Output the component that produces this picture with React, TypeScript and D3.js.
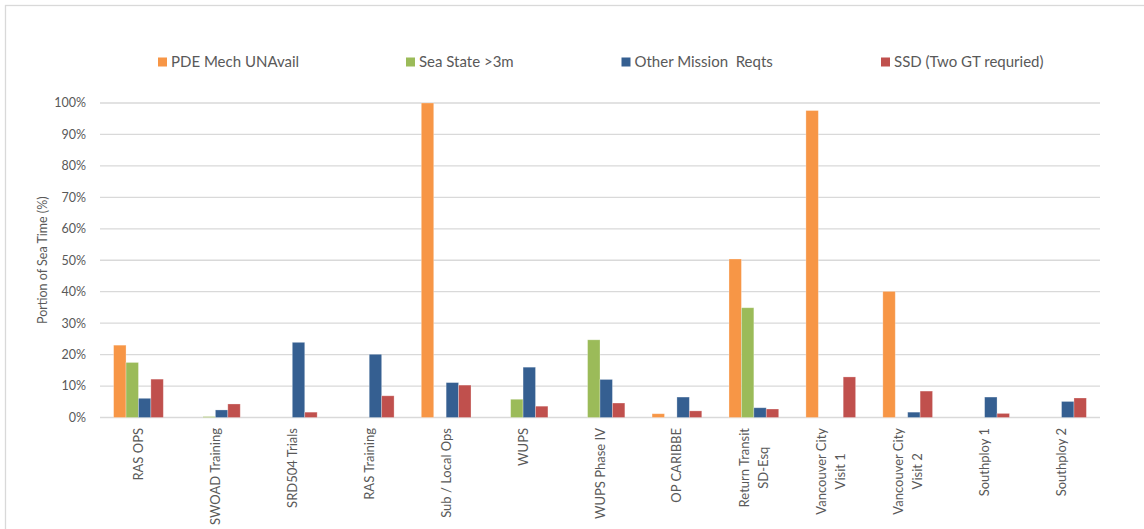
import React, { useEffect, useRef } from "react";
import * as d3 from "d3";

// Categories (a "\n" splits a label onto two lines)
const categories = [
  "RAS OPS",
  "SWOAD Training",
  "SRD504 Trials",
  "RAS Training",
  "Sub / Local Ops",
  "WUPS",
  "WUPS Phase IV",
  "OP CARIBBE",
  "Return Transit\nSD-Esq",
  "Vancouver City\nVisit 1",
  "Vancouver City\nVisit 2",
  "Southploy 1",
  "Southploy 2",
];

// Portion of sea time lost, in percent, per category
const pdeMechUnavail = [23, 0, 0, 0, 100, 0, 0, 1.2, 50.4, 97.6, 40.1, 0, 0];
const seaStateOver3m = [17.5, 0.3, 0, 0, 0, 5.8, 24.7, 0, 34.9, 0, 0, 0, 0];
const otherMissionReqts = [6.1, 2.4, 23.9, 20.1, 11.1, 16, 12.1, 6.5, 3.1, 0, 1.7, 6.5, 5.1];
const ssdTwoGt = [12.2, 4.3, 1.7, 6.9, 10.3, 3.6, 4.6, 2.1, 2.7, 12.9, 8.4, 1.3, 6.2];

const seriesNames = [
  "PDE Mech UNAvail",
  "Sea State >3m",
  "Other Mission  Reqts",
  "SSD (Two GT requried)",
];
const seriesValues = [pdeMechUnavail, seaStateOver3m, otherMissionReqts, ssdTwoGt];
const seriesColors = ["#F79646", "#9BBB59", "#355F91", "#C0504D"];

const yTicks = [0, 10, 20, 30, 40, 50, 60, 70, 80, 90, 100];

const W = 1144;
const H = 529;
const FONT = "Lato, 'Open Sans', sans-serif";
const TEXT = "#595959";
const GRID = "#D9D9D9";

export default function App() {
  const ref = useRef<SVGSVGElement | null>(null);

  useEffect(() => {
    const svg = d3.select(ref.current);
    svg.selectAll("*").remove();

    const plot = { left: 100, right: 1100, top: 103, bottom: 417.5 };

    const x = d3.scaleBand<string>().domain(categories).range([plot.left, plot.right]).padding(0);
    const x1 = d3
      .scaleBand<string>()
      .domain(seriesNames)
      .range([0, x.bandwidth()])
      .paddingInner(0)
      .paddingOuter(1.095);
    const y = d3.scaleLinear().domain([0, 100]).range([plot.bottom, plot.top]);

    // outer chart border
    svg
      .append("rect")
      .attr("x", 5.5)
      .attr("y", 5.5)
      .attr("width", W + 20)
      .attr("height", H + 20)
      .attr("fill", "#fff")
      .attr("stroke", GRID)
      .attr("stroke-width", 1.3);

    // gridlines
    svg
      .append("g")
      .selectAll("line")
      .data(yTicks)
      .join("line")
      .attr("x1", plot.left)
      .attr("x2", plot.right)
      .attr("y1", (d) => y(d))
      .attr("y2", (d) => y(d))
      .attr("stroke", GRID)
      .attr("stroke-width", 1.3);

    // y tick labels
    svg
      .append("g")
      .selectAll("text")
      .data(yTicks)
      .join("text")
      .attr("x", 86)
      .attr("y", (d) => y(d))
      .attr("dy", "0.35em")
      .attr("text-anchor", "end")
      .attr("font-family", FONT)
      .attr("font-size", 12.5)
      .attr("fill", TEXT)
      .text((d) => `${d}%`);

    // y axis title
    svg
      .append("text")
      .attr("transform", `translate(43,${(plot.top + plot.bottom) / 2}) rotate(-90)`)
      .attr("text-anchor", "middle")
      .attr("dy", "0.35em")
      .attr("font-family", FONT)
      .attr("font-size", 12.5)
      .attr("fill", TEXT)
      .text("Portion of Sea Time (%)");

    // bars
    const groups = svg
      .append("g")
      .selectAll("g")
      .data(categories)
      .join("g")
      .attr("transform", (c) => `translate(${x(c)},0)`);

    groups
      .selectAll("rect")
      .data((c, i) =>
        seriesNames.map((s, k) => ({ s, v: seriesValues[k][i], color: seriesColors[k] }))
      )
      .join("rect")
      .filter((d) => d.v > 0)
      .attr("x", (d) => x1(d.s)!)
      .attr("width", x1.bandwidth())
      .attr("y", (d) => y(d.v))
      .attr("height", (d) => y(0) - y(d.v))
      .attr("fill", (d) => d.color)
      .attr("stroke", "#ffffff")
      .attr("stroke-opacity", 0.35)
      .attr("stroke-width", 0.8);

    // category labels, rotated, top-aligned below the axis
    const labelTop = 428;
    const lineGap = 19;
    categories.forEach((c) => {
      const lines = c.split("\n");
      const cx = x(c)! + x.bandwidth() / 2;
      const g = svg.append("g");
      const texts = lines.map((ln) =>
        g
          .append("text")
          .attr("font-family", FONT)
          .attr("font-size", 13)
          .attr("fill", TEXT)
          .attr("dy", "0.35em")
          .text(ln)
      );
      const widths = texts.map((t) => (t.node() as SVGTextElement).getComputedTextLength());
      const maxW = Math.max(...widths);
      texts.forEach((t, i) => {
        const lx = cx + (i - (lines.length - 1) / 2) * lineGap;
        const ly = labelTop + maxW / 2;
        t.attr("text-anchor", "middle").attr("transform", `translate(${lx},${ly}) rotate(-90)`);
      });
    });

    // legend
    const legendX = [158, 406, 621.5, 881];
    const legend = svg
      .append("g")
      .selectAll("g")
      .data(seriesNames)
      .join("g")
      .attr("transform", (_, i) => `translate(${legendX[i]},57.5)`);
    legend
      .append("rect")
      .attr("width", 9)
      .attr("height", 9)
      .attr("fill", (_, i) => seriesColors[i]);
    legend
      .append("text")
      .attr("x", 13)
      .attr("y", 4.5)
      .attr("dy", "0.35em")
      .attr("font-family", FONT)
      .attr("font-size", 15)
      .attr("fill", TEXT)
      .style("white-space", "pre")
      .text((d) => d);
  }, []);

  return (
    <div style={{ position: "absolute", left: 0, top: 0 }}>
      <svg ref={ref} width={W} height={H} style={{ display: "block" }} />
    </div>
  );
}
